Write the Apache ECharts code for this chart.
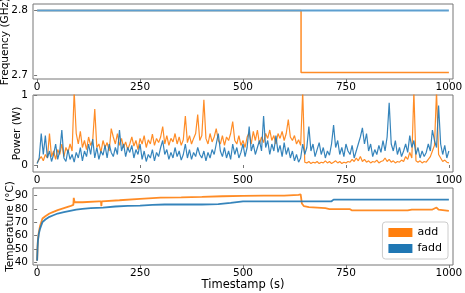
<!DOCTYPE html>
<html><head><meta charset="utf-8">
<script src="https://cdn.jsdelivr.net/npm/echarts@6/dist/echarts.min.js"></script>
<style>html,body{margin:0;padding:0;background:#fff}#c{width:465px;height:293px}</style>
</head><body><div id="c"></div>
<script>
const seriesNames = ['add', 'fadd'];
const xTicks = [0, 250, 500, 750, 1000];
const freqTicks = [2.7, 2.8];
const powerTicks = [0, 1];
const tempTicks = [40, 50, 60, 70, 80, 90];

// Frequency (GHz) [timestamp, value]
const freqAdd = [[0, 2.8], [641, 2.8], [641, 2.705], [1000, 2.705]];
const freqFadd = [[0, 2.8], [1000, 2.8]];

// Power (W), sampled every 5 s from t = 0 to 1000
const powerStep = 5;
const powerAdd = [
0.03,0.08,0.12,0.06,0.15,0.1,0.45,0.12,0.2,0.08,0.22,0.15,0.3,0.12,0.25,0.18,0.3,0.2,1.05,0.45,
0.3,0.48,0.25,0.35,0.22,0.4,0.28,0.35,0.8,0.25,0.3,0.18,0.35,0.25,0.32,0.2,0.52,0.4,0.3,0.45,
0.28,0.38,0.25,0.33,0.22,0.3,0.4,0.27,0.35,0.22,0.38,0.3,0.42,0.25,0.36,0.3,0.44,0.28,0.38,0.32,
0.4,0.55,0.3,0.42,0.28,0.38,0.33,0.45,0.3,0.4,0.28,0.36,0.7,0.32,0.42,0.3,0.38,0.45,0.72,0.35,
0.42,0.93,0.38,0.3,0.45,0.33,0.4,0.52,0.35,0.3,0.42,0.28,0.4,0.35,0.45,0.62,0.35,0.3,0.42,0.28,
0.35,0.25,0.4,0.46,0.3,0.48,0.35,0.5,0.3,0.4,0.32,0.45,0.38,0.5,0.35,0.42,0.3,0.45,0.38,0.48,
0.35,0.45,0.65,0.4,0.35,0.42,0.3,0.36,0.28,1.05,0.04,0.03,0.05,0.02,0.04,0.03,0.05,0.02,0.04,0.03,
0.06,0.03,0.05,0.02,0.04,0.06,0.03,0.05,0.02,0.04,0.03,0.05,0.04,0.08,0.05,0.1,0.06,0.12,0.05,0.08,
0.04,0.06,0.03,0.05,0.04,0.07,0.03,0.05,0.06,0.1,0.05,0.08,0.04,0.06,0.03,0.05,0.04,0.07,0.05,0.12,
0.08,0.18,0.1,1.05,0.06,0.04,0.06,0.03,0.05,0.04,0.08,0.12,0.2,0.28,1.05,0.15,0.1,0.05,0.07,0.04,
0.03];
const powerFadd = [
0.02,0.1,0.45,0.15,0.42,0.1,0.2,0.05,0.15,0.3,0.08,0.2,0.5,0.1,0.05,0.22,0.08,0.15,0.04,0.18,
0.1,0.25,0.06,0.2,0.12,0.3,0.15,0.37,0.1,0.25,0.08,0.2,0.14,0.28,0.1,0.3,0.18,0.12,0.25,0.15,
0.5,0.2,0.3,0.12,0.25,0.18,0.28,0.1,0.22,0.15,0.3,0.08,0.2,0.05,0.15,0.1,0.22,0.06,0.18,0.12,
0.25,0.35,0.15,0.22,0.08,0.18,0.1,0.25,0.12,0.2,0.07,0.15,0.3,0.1,0.22,0.08,0.18,0.12,0.25,0.15,
0.1,0.2,0.06,0.18,0.1,0.22,0.15,0.3,0.45,0.2,0.12,0.25,0.1,0.2,0.08,0.3,0.15,0.25,0.1,0.18,
0.3,0.12,0.25,0.55,0.2,0.3,0.15,0.25,0.35,0.2,0.7,0.25,0.35,0.15,0.3,0.2,0.42,0.18,0.28,0.12,
0.32,0.15,0.25,0.1,0.2,0.06,0.15,0.04,0.1,0.3,0.15,0.25,0.55,0.2,0.3,0.12,0.22,0.32,0.15,0.25,
0.1,0.2,0.14,0.3,0.57,0.25,0.35,0.15,0.25,0.12,0.3,0.2,0.15,0.28,0.1,0.2,0.3,0.4,0.53,0.3,
0.45,0.2,0.3,0.12,0.22,0.15,0.28,0.18,0.35,0.2,0.4,0.89,0.3,0.2,0.35,0.15,0.25,0.12,0.2,0.3,
0.18,0.42,0.25,0.35,0.15,0.25,0.1,0.2,0.12,0.18,0.3,0.2,0.5,0.35,0.25,0.85,0.3,0.15,0.28,0.1,
0.2];

// Temperature (°C) [timestamp, value]
const tempAdd = [[0,41],[1,51],[2,57],[4,62],[7,67],[10,70],[13,72.8],[20,74.5],[30,76.5],[38,77.5],[50,79],[65,80.5],[80,82],[88,83],[89,88.3],[91,85],[95,84.5],[110,85],[150,85.7],[155,85.7],[156,82],[157,85.7],[200,86.5],[250,87.5],[300,88.5],[350,88.7],[400,89],[450,89.5],[500,89.8],[550,90],[600,90],[635,90.5],[640,91],[643,84],[648,82],[660,81.3],[700,80.5],[710,79.8],[760,79.8],[765,78.8],[900,78.8],[910,79.5],[960,79.5],[970,81],[975,79.5],[1000,78.5]];
const tempFadd = [[0,41],[1,50],[2,56],[4,61],[7,65],[10,67.5],[13,70],[20,72],[30,74],[38,75],[50,76.5],[65,77.5],[80,78.5],[95,79.5],[110,80],[130,80.5],[160,81],[190,81.8],[220,82.2],[250,82.5],[280,83],[310,83.3],[400,83.3],[440,83.5],[470,84.5],[500,85.7],[640,85.7],[715,85.7],[720,87],[1000,87]];

const colors = {add: '#ff7f0e', fadd: '#1f77b4'};
const font = 'DejaVu Sans';
const spine = '#777';

function toPairs(arr, step) { return arr.map((v, i) => [i * step, v]); }

const grids = [
  {left: 33, right: 12, top: 4, height: 75},
  {left: 33, right: 12, top: 95, height: 77},
  {left: 33, right: 12, top: 188, height: 77}
].map(g => Object.assign({show: true, borderColor: spine, borderWidth: 1, backgroundColor: 'transparent',
  containLabel: false, outerBoundsMode: 'none'}, g));

function xAxis(i, withName) {
  const ax = {
    type: 'value', gridIndex: i, min: -10, max: 1010,
    axisLine: {show: false}, splitLine: {show: false},
    axisTick: {show: true, length: 3, lineStyle: {color: spine}, customValues: xTicks},
    axisLabel: {color: '#000', fontFamily: font, fontSize: 10.5, margin: 3, customValues: xTicks,
      formatter: v => String(v)}
  };
  if (withName) {
    ax.name = 'Timestamp (s)'; ax.nameLocation = 'middle'; ax.nameGap = 14; ax.nameMoveOverlap = false;
    ax.nameTextStyle = {color: '#000', fontFamily: font, fontSize: 11.5};
  }
  return ax;
}
function yAxis(i, min, max, ticks, name, gap) {
  return {
    type: 'value', gridIndex: i, min: min, max: max,
    axisLine: {show: false}, splitLine: {show: false},
    axisTick: {show: true, length: 3, lineStyle: {color: spine}, customValues: ticks},
    axisLabel: {color: '#000', fontFamily: font, fontSize: 10.5, margin: 5, customValues: ticks,
      formatter: v => String(v)},
    name: name, nameLocation: 'middle', nameGap: gap, nameMoveOverlap: false,
    nameTextStyle: {color: '#000', fontFamily: font, fontSize: 10.5}
  };
}
function line(name, idx, data, z, width, opacity, color) {
  return {
    name: name, type: 'line', xAxisIndex: idx, yAxisIndex: idx, data: data,
    showSymbol: false, symbol: 'none', z: z, clip: true,
    lineStyle: {color: color || colors[name], width: width, opacity: opacity},
    itemStyle: {color: colors[name]}
  };
}

const chart = echarts.init(document.getElementById('c'), null, {renderer: 'canvas'});
chart.setOption({
  animation: false,
  backgroundColor: '#fff',
  grid: grids,
  xAxis: [xAxis(0, false), xAxis(1, false), xAxis(2, true)],
  yAxis: [
    yAxis(0, 2.695, 2.81, freqTicks, 'Frequency (GHz)', 22),
    yAxis(1, -0.1, 1.0, powerTicks, 'Power (W)', 10),
    yAxis(2, 37.8, 95.7, tempTicks, 'Temperature (°C)', 17)
  ],
  legend: {
    data: seriesNames, orient: 'vertical', right: 17, top: 222,
    icon: 'rect', itemWidth: 24, itemHeight: 9, itemGap: 5,
    padding: [5, 6], backgroundColor: '#fff', borderColor: '#ccc', borderWidth: 1, borderRadius: 3,
    textStyle: {color: '#000', fontFamily: font, fontSize: 11}
  },
  series: [
    line('add', 0, freqAdd, 2, 1.5, 0.9), line('fadd', 0, freqFadd, 3, 1.8, 1, '#5d9fd0'),
    line('add', 1, toPairs(powerAdd, powerStep), 2, 1.2, 0.9), line('fadd', 1, toPairs(powerFadd, powerStep), 3, 1.2, 0.9),
    line('add', 2, tempAdd, 2, 1.8, 0.9), line('fadd', 2, tempFadd, 3, 1.8, 0.9)
  ]
});
</script></body></html>
